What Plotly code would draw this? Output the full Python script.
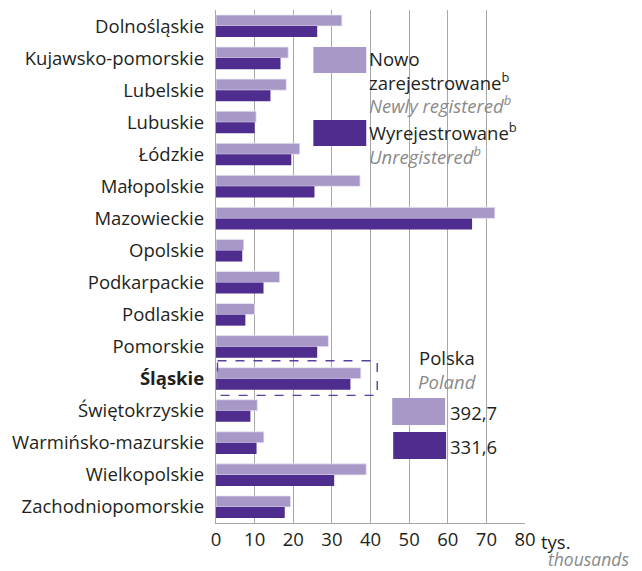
import plotly.graph_objects as go

regions = ["Dolnośląskie", "Kujawsko-pomorskie", "Lubelskie", "Lubuskie", "Łódzkie",
           "Małopolskie", "Mazowieckie", "Opolskie", "Podkarpackie", "Podlaskie",
           "Pomorskie", "Śląskie", "Świętokrzyskie", "Warmińsko-mazurskie",
           "Wielkopolskie", "Zachodniopomorskie"]
new_reg = [32.6, 18.7, 18.2, 10.4, 21.7, 37.3, 72.2, 7.2, 16.5, 10.0,
           29.1, 37.5, 10.7, 12.4, 38.9, 19.3]
unreg = [26.2, 16.7, 14.1, 10.0, 19.5, 25.5, 66.3, 6.8, 12.3, 7.6,
         26.2, 34.8, 8.9, 10.5, 30.6, 17.8]
total_new = "392,7"
total_unreg = "331,6"
x_ticks = [0, 10, 20, 30, 40, 50, 60, 70, 80]

LIGHT = "#a898c8"
DARK = "#4f2d8e"
GRID = "#a7a7a7"
TXT = "#231f20"
GREY = "#8a8a8a"
FONT = "Open Sans"
FS = 18.5

# the page has an 8px body margin, so the figure is drawn 8px in
OFF = 8
W, H = 642 - OFF, 571 - OFF
# plot area in reference-picture pixels
L, R, T, B = 215.5, 525, 10, 523


def px(x):
    return (x - L) / (R - L)


def py(y):
    return (B - y) / (B - T)


ticktext = ["<b>%s</b>" % r if r == "Śląskie" else r for r in regions]

fig = go.Figure()
fig.add_trace(go.Bar(y=regions, x=new_reg, orientation="h", name="new",
                     marker=dict(color=LIGHT, line=dict(color="#ece6f4", width=0.8))))
fig.add_trace(go.Bar(y=regions, x=unreg, orientation="h", name="unreg",
                     marker=dict(color=DARK, line=dict(width=0))))

fig.update_layout(
    width=W, height=H,
    margin=dict(l=L - OFF, r=642 - R, t=T - OFF, b=571 - B, pad=0),
    paper_bgcolor="white", plot_bgcolor="white",
    barmode="group", bargap=0.31, bargroupgap=0,
    showlegend=False,
    font=dict(family=FONT, size=FS, color=TXT),
)
fig.update_xaxes(range=[0, 80], tickvals=x_ticks, showgrid=True, gridcolor=GRID,
                 gridwidth=1.3, zeroline=False, showline=True, linecolor=GRID,
                 linewidth=1.3, ticks="", ticklen=0, automargin=False,
                 tickfont=dict(size=FS, color=TXT))
fig.update_yaxes(categoryorder="array", categoryarray=regions, autorange="reversed",
                 tickvals=regions, ticktext=ticktext, showgrid=False, showline=True,
                 linecolor=GRID, linewidth=1.3, ticks="", ticklabelstandoff=7,
                 automargin=False, tickfont=dict(size=FS, color=TXT))

shapes = []
# white backgrounds behind the legend blocks (hide gridlines)
shapes.append(dict(type="rect", xref="paper", yref="paper", layer="between",
                   x0=px(310), x1=px(524), y0=py(168), y1=py(42),
                   fillcolor="white", line=dict(width=0)))
shapes.append(dict(type="rect", xref="paper", yref="paper", layer="between",
                   x0=px(382), x1=px(524), y0=py(463), y1=py(340),
                   fillcolor="white", line=dict(width=0)))
# legend patches
shapes.append(dict(type="rect", xref="paper", yref="paper", x0=px(313), x1=px(366),
                   y0=py(73), y1=py(47), fillcolor=LIGHT, line=dict(width=0)))
shapes.append(dict(type="rect", xref="paper", yref="paper", x0=px(313), x1=px(366),
                   y0=py(146), y1=py(120), fillcolor=DARK, line=dict(width=0)))
# Polska patches
shapes.append(dict(type="rect", xref="paper", yref="paper", x0=px(392), x1=px(445),
                   y0=py(425), y1=py(398), fillcolor=LIGHT, line=dict(width=0)))
shapes.append(dict(type="rect", xref="paper", yref="paper", x0=px(393), x1=px(446),
                   y0=py(459), y1=py(432), fillcolor=DARK, line=dict(width=0)))
# dashed highlight around Śląskie
idx = regions.index("Śląskie")
shapes.append(dict(type="rect", xref="paper", yref="y", x0=px(217), x1=px(377),
                   y0=idx - 0.56, y1=idx + 0.52, fillcolor="rgba(0,0,0,0)",
                   line=dict(color="#5b3ea0", width=1.4, dash="dash")))
fig.update_layout(shapes=shapes)


def ann(x, y, text, color=TXT, italic=False, size=FS, xanchor="left"):
    if italic:
        text = "<i>%s</i>" % text
    fig.add_annotation(xref="paper", yref="paper", x=px(x), y=py(y), text=text,
                       showarrow=False, xanchor=xanchor, yanchor="middle",
                       xshift=-2, font=dict(size=size, color=color, family=FONT))


sup = "<sup style='font-size:12px'>b</sup>"
ann(369, 58, "Nowo")
ann(369, 81, "zarejestrowane" + sup)
ann(369, 104, "Newly registered" + sup, color=GREY, italic=True)
ann(369, 131, "Wyrejestrowane" + sup)
ann(369, 155, "Unregistered" + sup, color=GREY, italic=True)

ann(449, 357, "Polska", xanchor="center")
ann(449, 381, "Poland", color=GREY, italic=True, xanchor="center")
ann(450, 412, total_new)
ann(450, 446, total_unreg)

ann(541, 541, "tys.")
ann(633, 559, "thousands", color=GREY, italic=True, size=17.5, xanchor="right")

fig.write_html("out.html")
